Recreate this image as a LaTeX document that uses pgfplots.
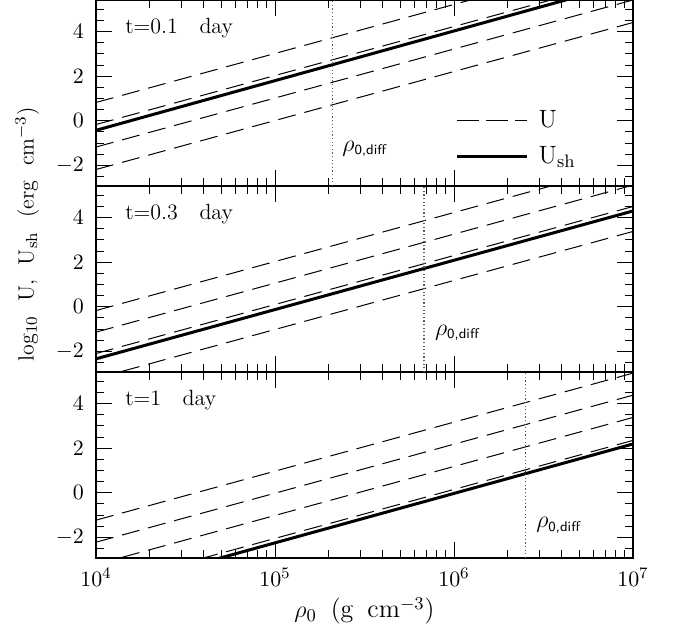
\documentclass[border=0pt]{standalone}
\usepackage{pgfplots}
\pgfplotsset{compat=1.18}
\pgfplotsset{
  /pgfplots/mypanelstyle/.style={
    scale only axis, width=268.5pt, height=93pt,
    xmin=1e4, xmax=1e7, ymin=-2.93, ymax=5.42,
    xtick={1e4,1e5,1e6,1e7},
    ytick={-2,0,2,4},
    minor ytick={-2.5,-1.5,-1,-0.5,0.5,1,1.5,2.5,3,3.5,4.5,5},
    tick pos=both, tick align=inside,
    major tick length=8pt, minor tick length=4pt,
    every tick/.style={black, line width=0.5pt},
    axis line style={line width=1pt},
    tick label style={font=\fontsize{11}{13}\selectfont},
    yticklabel style={xshift=-2.5pt},
    xticklabel style={yshift=-1.5pt},
  },
}
\tikzset{
  dsh/.style={black, line width=0.5pt, dash pattern=on 9pt off 4.5pt},
  thk/.style={black, line width=1.5pt},
  vdot/.style={black!65, line width=0.6pt, dash pattern=on 0.6pt off 1.2pt},
}
\newcommand{\rhodiff}{{\fontsize{13}{15}\selectfont$\rho_{\hbox{\fontsize{7}{8}\selectfont\sffamily 0,diff}}$}}
\begin{document}
\begin{tikzpicture}
\useasboundingbox (-48pt,-35pt) rectangle (299pt,279pt);
% ---------------- bottom panel: t = 1 day
\begin{axis}[xmode=log, mypanelstyle, at={(0pt,0pt)}, anchor=south west,
  xlabel={\fontsize{13}{15}\selectfont$\rho_0$\hspace{7pt}(g\hspace{7pt}cm$^{-3}$)},
  xlabel style={at={(axis description cs:0.5,-0.285)}, anchor=center}]
\addplot[dsh] coordinates {(1e4,-1.23) (1e7,5.37)};
\addplot[dsh] coordinates {(1e4,-2.22) (1e7,4.38)};
\addplot[dsh] coordinates {(1e4,-3.22) (1e7,3.38)};
\addplot[dsh] coordinates {(1e4,-4.25) (1e7,2.35)};
\addplot[thk] coordinates {(1e4,-4.47) (1e7,2.19)};
\addplot[vdot] coordinates {(2.5e6,-2.93) (2.5e6,5.42)};
\node[anchor=base west, inner sep=0pt, font=\fontsize{11}{13}\selectfont] at (axis cs:1.45e4,3.92) {t=1\ \ \ day};
\node[anchor=west, inner sep=0pt] at (axis cs:2.87e6,-1.45) {\rhodiff};
\end{axis}
% ---------------- middle panel: t = 0.3 day
\begin{axis}[xmode=log, mypanelstyle, at={(0pt,93pt)}, anchor=south west, xticklabels={},
  ylabel={\fontsize{11}{13}\selectfont log$_{10}$\ \ U,\ \ U$_{\rm sh}$\ \ (erg\ \ cm$^{-3}$)},
  ylabel style={at={(axis description cs:-0.128,0.74)}, anchor=center}]
\addplot[dsh] coordinates {(1e4,-0.17) (1e7,6.43)};
\addplot[dsh] coordinates {(1e4,-1.14) (1e7,5.46)};
\addplot[dsh] coordinates {(1e4,-2.10) (1e7,4.50)};
\addplot[dsh] coordinates {(1e4,-3.22) (1e7,3.38)};
\addplot[thk] coordinates {(1e4,-2.34) (1e7,4.30)};
\addplot[vdot] coordinates {(6.8e5,-2.93) (6.8e5,5.42)};
\node[anchor=base west, inner sep=0pt, font=\fontsize{11}{13}\selectfont] at (axis cs:1.45e4,3.92) {t=0.3\ \ \ day};
\node[anchor=west, inner sep=0pt] at (axis cs:7.8e5,-1.16) {\rhodiff};
\end{axis}
% ---------------- top panel: t = 0.1 day
\begin{axis}[xmode=log, mypanelstyle, at={(0pt,186pt)}, anchor=south west, xticklabels={},
  legend style={draw=none, fill=none, at={(rel axis cs:0.669,0.4285)}, anchor=north west,
    inner sep=0pt, row sep=3.6pt, font=\fontsize{12.5}{14}\selectfont},
  legend cell align=left,
  legend image code/.code={\draw[#1] (0pt,0pt) -- (35pt,0pt);}]
\addlegendimage{black, line width=0.5pt, dash pattern=on 11pt off 3.5pt}
\addlegendentry{\hspace{3pt}U}
\addlegendimage{thk}
\addlegendentry{\hspace{3pt}U$_{\rm sh}$}
\addplot[dsh, forget plot] coordinates {(1e4,0.82) (1e7,7.42)};
\addplot[dsh, forget plot] coordinates {(1e4,-0.17) (1e7,6.43)};
\addplot[dsh, forget plot] coordinates {(1e4,-1.18) (1e7,5.42)};
\addplot[dsh, forget plot] coordinates {(1e4,-2.19) (1e7,4.41)};
\addplot[thk, forget plot] coordinates {(1e4,-0.43) (1e7,6.26)};
\addplot[vdot, forget plot] coordinates {(2.1e5,-2.93) (2.1e5,5.42)};
\node[anchor=base west, inner sep=0pt, font=\fontsize{11}{13}\selectfont] at (axis cs:1.45e4,3.92) {t=0.1\ \ \ day};
\node[anchor=west, inner sep=0pt] at (axis cs:2.37e5,-1.26) {\rhodiff};
\end{axis}
\end{tikzpicture}
\end{document}
